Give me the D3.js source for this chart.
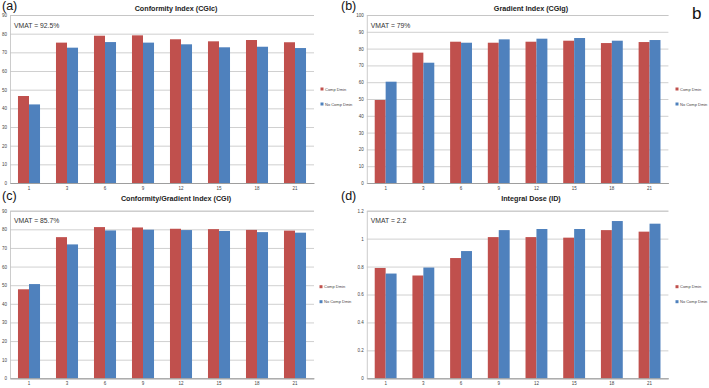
<!DOCTYPE html>
<html><head><meta charset="utf-8">
<script src="https://cdnjs.cloudflare.com/ajax/libs/d3/7.8.5/d3.min.js"></script>
<style>body{margin:0;background:#fff}svg{display:block}</style>
</head><body>
<script>
const categories = ["1","3","6","9","12","15","18","21"];
const seriesNames = ["Comp Dmin","No Comp Dmin"];

const cgicComp   = [46.6,75.2,78.9,79.1,77.0,75.9,76.6,75.4];
const cgicNoComp = [42.1,72.5,75.5,75.2,74.3,72.7,73.0,72.3];
const cgigComp   = [49.4,77.6,84.1,83.5,84.1,84.7,83.3,83.9];
const cgigNoComp = [60.3,71.6,83.5,85.5,85.9,86.3,84.7,85.1];
const cgiComp    = [47.8,75.8,81.2,81.0,80.3,80.1,79.7,79.3];
const cgiNoComp  = [50.6,71.9,79.4,79.8,79.6,79.1,78.5,78.2];
const idComp     = [0.79,0.736,0.861,1.011,1.011,1.007,1.061,1.05];
const idNoComp   = [0.75,0.793,0.911,1.061,1.069,1.069,1.126,1.107];

const ticksA = [0,10,20,30,40,50,60,70,80,90];
const ticksB = [0,10,20,30,40,50,60,70,80,90,100];
const ticksC = [0,10,20,30,40,50,60,70,80,90];
const ticksD = [0,0.2,0.4,0.6,0.8,1,1.2];

const titles = ["Conformity Index (CGIc)","Gradient Index (CGIg)","Conformity/Gradient Index (CGI)","Integral Dose (ID)"];
const panelLetters = ["(a)","(b)","(c)","(d)"];
const vmatLabels = ["VMAT = 92.5%","VMAT = 79%","VMAT = 85.7%","VMAT = 2.2"];

const colors = ["#C0504D","#4F81BD"];
const W = 709, H = 388;
const svg = d3.select("body").append("svg").attr("width",W).attr("height",H)
  .style("font-family","'Liberation Sans', Arial, sans-serif");

const panels = [
  {data:[cgicComp,cgicNoComp], ticks:ticksA, max:90, x0:10, x1:314, yT:15, yB:183, ox:0, oy:0, legX:322, legY:89},
  {data:[cgigComp,cgigNoComp], ticks:ticksB, max:100, x0:366.8, x1:668.4, yT:15, yB:183, ox:355, oy:0, legX:677, legY:89},
  {data:[cgiComp,cgiNoComp], ticks:ticksC, max:90, x0:10, x1:314, yT:210.7, yB:378.3, ox:0, oy:190, legX:321, legY:286.7},
  {data:[idComp,idNoComp], ticks:ticksD, max:1.2, x0:366.8, x1:668.4, yT:210.7, yB:378.3, ox:355, oy:190, legX:677, legY:286.7}
];

panels.forEach((p,i)=>{
  const g = svg.append("g");
  const x = d3.scaleBand().domain(categories).range([p.x0,p.x1]).paddingInner(0.42).paddingOuter(0.21);
  const xs = d3.scaleBand().domain([0,1]).range([0,x.bandwidth()]);
  const y = d3.scaleLinear().domain([0,p.max]).range([p.yB,p.yT]);

  const yAxis = d3.axisLeft(y).tickValues(p.ticks).tickSize(-(p.x1-p.x0)).tickPadding(3)
    .tickFormat(d=>d3.format("~g")(d));
  const ya = g.append("g").attr("transform",`translate(${p.x0},0)`).call(yAxis);
  ya.select(".domain").attr("stroke","#bfbfbf").attr("stroke-width",0.8);
  ya.selectAll(".tick line").attr("stroke","#c4c4c4").attr("stroke-width",0.8);
  ya.selectAll(".tick text").attr("font-size",4.5).attr("fill","#444");

  p.data.forEach((vals,s)=>{
    g.selectAll(null).data(vals).enter().append("rect")
      .attr("x",(d,k)=>x(categories[k])+xs(s))
      .attr("width",xs.bandwidth())
      .attr("y",d=>y(d))
      .attr("height",d=>y(0)-y(d))
      .attr("fill",colors[s]);
  });

  const xAxis = d3.axisBottom(x).tickSize(0).tickPadding(4);
  const xa = g.append("g").attr("transform",`translate(0,${p.yB})`).call(xAxis);
  xa.select(".domain").attr("stroke","#9a9a9a").attr("stroke-width",0.9);
  xa.selectAll(".tick text").attr("font-size",4.5).attr("fill","#444");

  g.append("text").attr("x",p.ox+176).attr("y",p.oy+10.5).attr("text-anchor","middle")
    .attr("font-size",7.2).attr("font-weight","bold").attr("fill","#222").text(titles[i]);
  const lx = (i%2===0)? 2 : 341;
  g.append("text").attr("x",lx).attr("y",p.oy+9.5).attr("font-size",12.5).attr("fill","#111").text(panelLetters[i]);
  g.append("text").attr("x",p.x0+4).attr("y",p.yT+12.5).attr("font-size",6.8).attr("fill","#333").text(vmatLabels[i]);

  seriesNames.forEach((n,s)=>{
    const ly = p.legY + s*15;
    g.append("rect").attr("x",p.legX-1.5).attr("y",ly-1.5).attr("width",3).attr("height",3).attr("fill",colors[s]);
    g.append("text").attr("x",p.legX+3).attr("y",ly+1.5).attr("font-size",4).attr("fill","#444").text(n);
  });
});

svg.append("text").attr("x",692).attr("y",19).attr("font-size",17).attr("fill","#111").text("b");
</script>
</body></html>
